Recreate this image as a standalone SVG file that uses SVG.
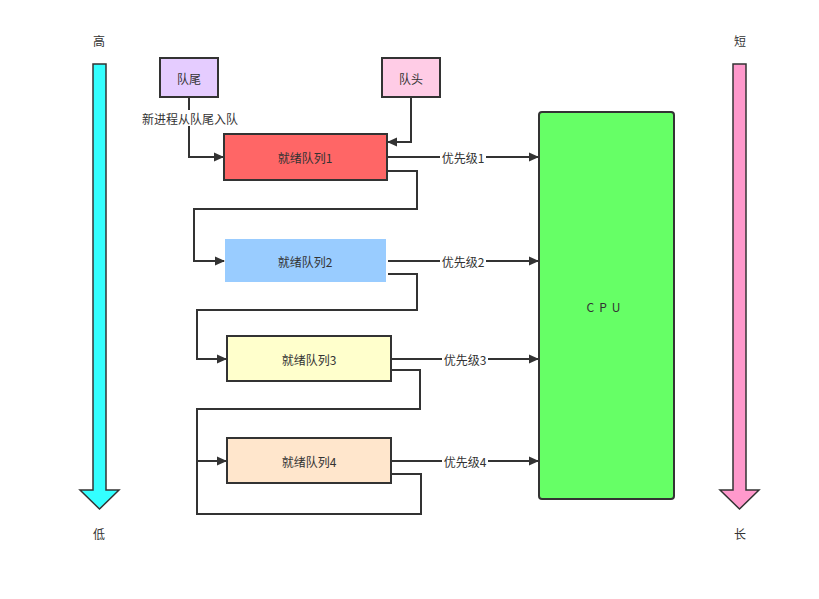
<svg xmlns="http://www.w3.org/2000/svg" width="819" height="599" viewBox="0 0 819 599">
<style>
text{font-family:"Noto Sans CJK SC","Liberation Sans",sans-serif;font-size:12px;fill:#333;text-anchor:middle;dominant-baseline:central}
.b{stroke:#333;stroke-width:2}
.c{fill:none;stroke:#333;stroke-width:2}
.lb{fill:#fff}
</style>
<defs><marker id="a" markerWidth="10" markerHeight="10" refX="9" refY="5" orient="auto" markerUnits="userSpaceOnUse"><path d="M0,0.5 L10,5 L0,9.5 Z" fill="#333"/></marker></defs>
<rect width="819" height="599" fill="#fff"/>
<g id="high-low"><path d="M93,64 H106 V490 H119 L99.5,509 L80,490 H93 Z" fill="#33FFFF" stroke="#333" stroke-width="1.5"/><text x="99" y="40">高</text><text x="99" y="533">低</text></g>
<g id="short-long"><path d="M733,64 H746 V490 H759 L739.5,509 L720,490 H733 Z" fill="#FF99CC" stroke="#333" stroke-width="1.5"/><text x="740" y="40">短</text><text x="740" y="533">长</text></g>
<g id="connectors">
<path class="c" d="M189,97 V157 H223" marker-end="url(#a)"/>
<path class="c" d="M411,97 V142 H388" marker-end="url(#a)"/>
<path class="c" d="M387,157 H538" marker-end="url(#a)"/>
<path class="c" d="M387,171 H417 V209 H194 V261 H224" marker-end="url(#a)"/>
<path class="c" d="M388,261 H538" marker-end="url(#a)"/>
<path class="c" d="M388,274 H417 V310 H197 V359 H226" marker-end="url(#a)"/>
<path class="c" d="M391,359 H538" marker-end="url(#a)"/>
<path class="c" d="M391,370 H420 V409 H197 V461 H226" marker-end="url(#a)"/>
<path class="c" d="M391,461 H538" marker-end="url(#a)"/>
<path class="c" d="M391,474 H421 V514 H197 V461"/>
<rect class="lb" x="138" y="110" width="104" height="16"/><text x="190" y="118">新进程从队尾入队</text>
<rect class="lb" x="440" y="149" width="46" height="16"/><text x="463" y="157">优先级1</text>
<rect class="lb" x="440" y="253" width="46" height="16"/><text x="463" y="261">优先级2</text>
<rect class="lb" x="442" y="351" width="46" height="16"/><text x="465" y="359">优先级3</text>
<rect class="lb" x="442" y="453" width="46" height="16"/><text x="465" y="461">优先级4</text>
</g>
<g id="tail"><rect class="b" x="160" y="58" width="58" height="39" fill="#E5CCFF"/><text x="189" y="78">队尾</text></g>
<g id="head"><rect class="b" x="382" y="58" width="58" height="39" fill="#FFCCE6"/><text x="411" y="78">队头</text></g>
<g id="q1"><rect class="b" x="224" y="134" width="163" height="46" fill="#FF6666"/><text x="305" y="157">就绪队列1</text></g>
<g id="q2"><rect x="225" y="239" width="161" height="43" fill="#99CCFF"/><text x="305" y="261">就绪队列2</text></g>
<g id="q3"><rect class="b" x="227" y="336" width="164" height="45" fill="#FFFFCC"/><text x="309" y="359">就绪队列3</text></g>
<g id="q4"><rect class="b" x="227" y="438" width="164" height="45" fill="#FFE6CC"/><text x="309" y="461">就绪队列4</text></g>
<g id="cpu"><rect class="b" x="539" y="112" width="135" height="387" rx="3" fill="#66FF66"/><text x="606" y="306" letter-spacing="5">CPU</text></g>
</svg>
